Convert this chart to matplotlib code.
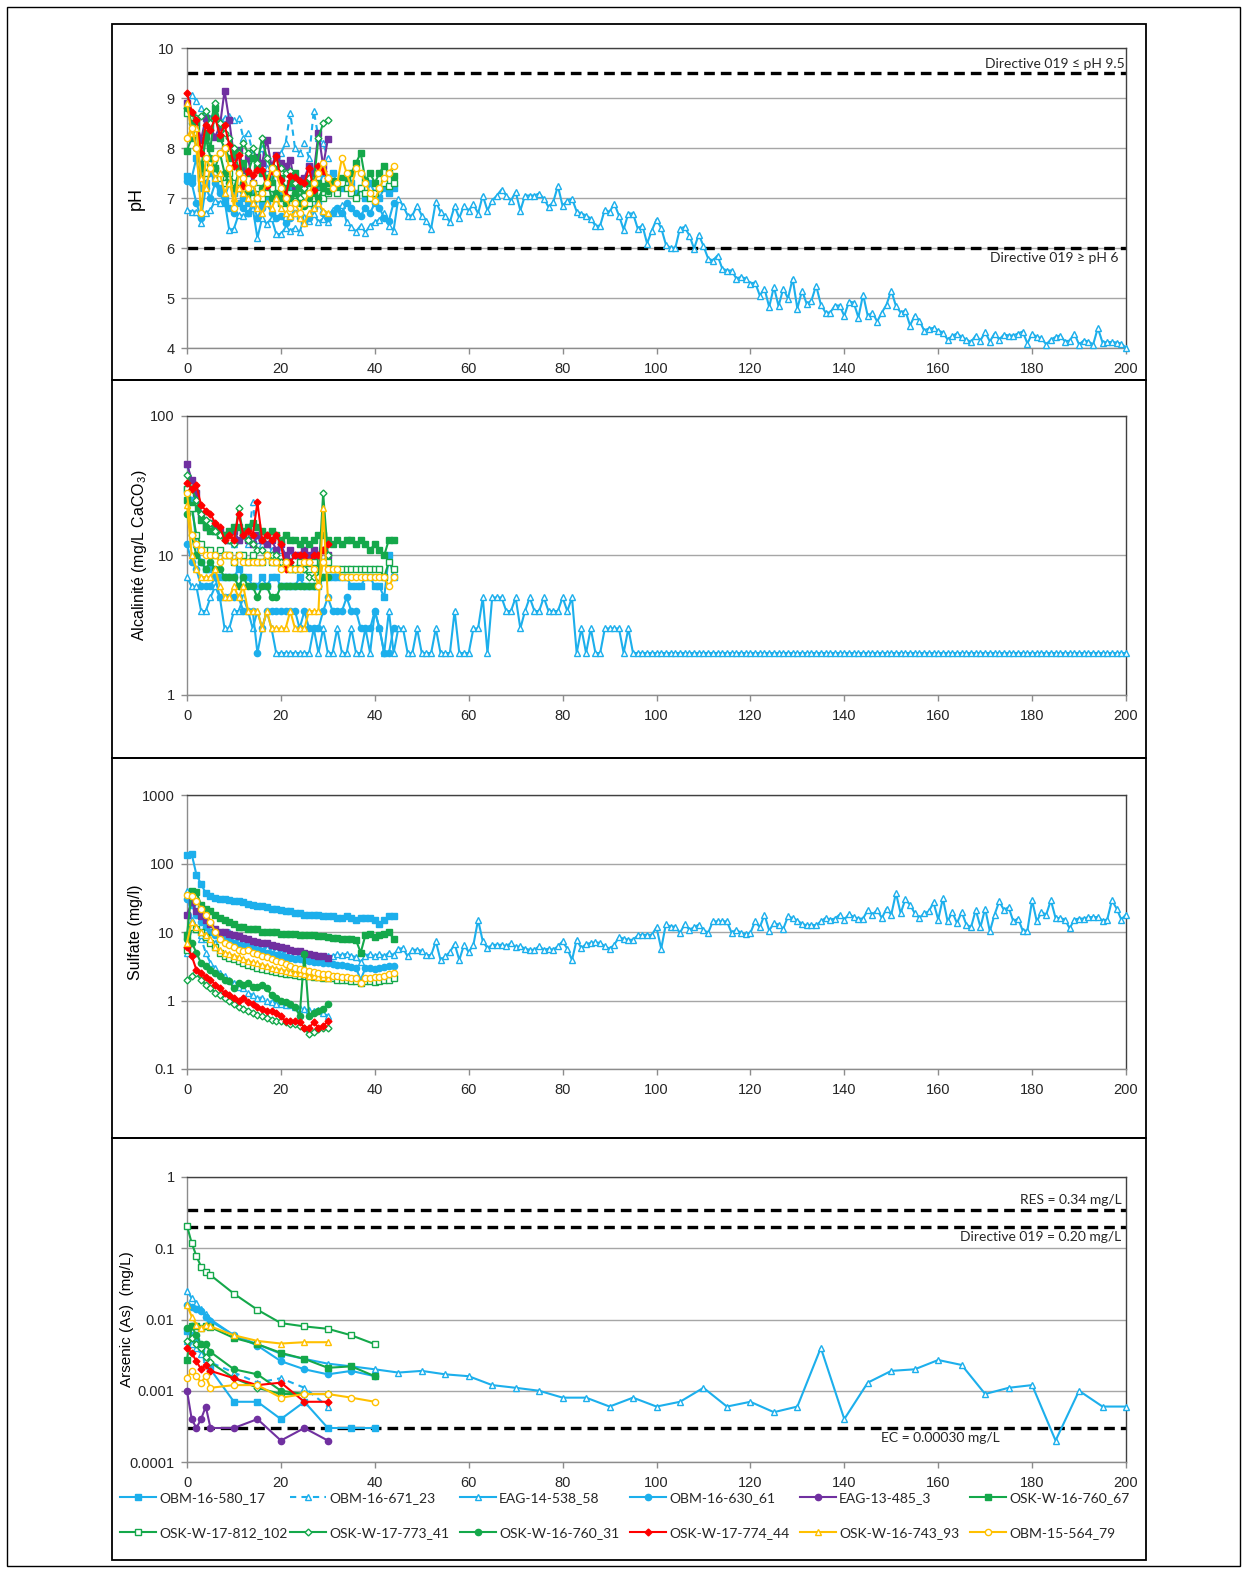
import matplotlib
matplotlib.use('Agg')
import matplotlib.pyplot as plt
from matplotlib.patches import Rectangle
from matplotlib.lines import Line2D
from matplotlib.ticker import FixedLocator, FuncFormatter, NullLocator
import numpy as np

plt.rcParams['mathtext.fontset'] = 'custom'
plt.rcParams['mathtext.rm'] = 'Liberation Sans'
plt.rcParams['mathtext.it'] = 'Liberation Sans'

# ---------------------------------------------------------------- data
series_names = ['OBM-16-580_17', 'OBM-16-671_23', 'EAG-14-538_58', 'OBM-16-630_61',
                'EAG-13-485_3', 'OSK-W-16-760_67', 'OSK-W-17-812_102', 'OSK-W-17-773_41',
                'OSK-W-16-760_31', 'OSK-W-17-774_44', 'OSK-W-16-743_93', 'OBM-15-564_79']

x_ticks = [0, 20, 40, 60, 80, 100, 120, 140, 160, 180, 200]

# ---- pH (one value per week, starting at week 0)
ph_obm_580_17 = [7.45, 7.4, 7.8, 7.2, 7.3, 7.5, 7.4, 7.2, 7.0, 7.3, 7.1, 7.2, 7.0, 6.9, 7.1, 7.0, 6.9, 7.0, 7.2, 7.0,
                 7.1, 7.0, 7.2, 7.3, 7.0, 7.1, 7.4, 7.3, 7.2, 7.5, 7.4, 7.5, 7.3, 7.2, 7.4, 7.3, 7.1, 7.2, 7.0, 7.3,
                 7.1, 7.0, 7.2, 7.1, 7.2]
ph_obm_671_23 = [8.9, 9.05, 8.95, 8.8, 8.7, 8.6, 8.7, 8.5, 8.6, 8.65, 8.55, 8.6, 8.2, 8.3, 7.9, 7.8, 8.0, 7.6, 7.4, 7.5,
                 7.9, 8.1, 8.7, 8.0, 7.9, 8.1, 7.8, 8.75, 8.2, 8.1, 7.8]
ph_eag_538_58 = [6.76, 6.73, 6.73, 6.5, 6.7, 6.76, 6.95, 6.9, 6.95, 6.36,
                 6.39, 6.67, 6.64, 6.7, 6.8, 6.2, 6.6, 6.48, 6.6, 6.28,
                 6.28, 6.41, 6.35, 6.4, 6.32, 6.62, 6.55, 6.69, 6.52, 6.59,
                 6.52, 6.76, 6.7, 6.86, 6.52, 6.42, 6.33, 6.45, 6.31, 6.45,
                 6.52, 6.57, 6.7, 6.45, 6.35, 6.99, 6.85, 6.65, 6.65, 6.85,
                 6.65, 6.55, 6.39, 6.93, 6.72, 6.65, 6.52, 6.84, 6.6, 6.85,
                 6.75, 6.88, 6.69, 7.05, 6.75, 6.95, 7.05, 7.17, 7.05, 6.95,
                 7.12, 6.75, 7.05, 7.05, 7.05, 7.09, 6.99, 6.82, 6.92, 7.24,
                 6.84, 6.95, 6.99, 6.73, 6.69, 6.65, 6.59, 6.44, 6.45, 6.77,
                 6.72, 6.89, 6.65, 6.37, 6.69, 6.69, 6.39, 6.45, 6.09, 6.35,
                 6.57, 6.4, 6.07, 6.0, 6.0, 6.39, 6.42, 6.25, 5.99, 6.27,
                 6.04, 5.79, 5.75, 5.85, 5.59, 5.55, 5.55, 5.39, 5.42, 5.39,
                 5.29, 5.31, 5.05, 5.19, 4.82, 5.22, 4.84, 5.19, 4.99, 5.39,
                 4.79, 5.15, 4.88, 4.95, 5.25, 4.87, 4.71, 4.71, 4.85, 4.85,
                 4.64, 4.93, 4.91, 4.61, 5.07, 4.64, 4.71, 4.53, 4.71, 4.87,
                 5.15, 4.84, 4.71, 4.75, 4.45, 4.65, 4.55, 4.35, 4.39, 4.4,
                 4.35, 4.31, 4.17, 4.24, 4.29, 4.22, 4.17, 4.12, 4.25, 4.15,
                 4.32, 4.13, 4.29, 4.17, 4.27, 4.25, 4.25, 4.29, 4.33, 4.09,
                 4.29, 4.22, 4.2, 4.07, 4.17, 4.22, 4.25, 4.13, 4.15, 4.29,
                 4.07, 4.15, 4.13, 4.07, 4.4, 4.11, 4.12, 4.12, 4.11, 4.09,
                 4.0]
ph_obm_630_61 = [7.35, 7.3, 6.9, 6.6, 7.2, 7.0, 7.3, 7.1, 6.9, 6.8, 6.7, 6.9, 6.8, 6.7, 6.9, 6.6, 6.8, 6.9, 6.7, 6.6,
                 6.65, 6.5, 6.6, 6.7, 6.6, 6.5, 6.6, 6.8, 6.9, 6.7, 6.6, 6.7, 6.8, 6.7, 6.9, 6.8, 6.7, 6.65, 6.8, 6.7,
                 6.9, 6.8, 6.6, 6.55, 6.9]
ph_eag_485_3 = [8.9, 8.63, 8.53, 8.17, 8.6, 8.4, 8.23, 8.43, 9.15, 8.55, 7.83, 7.97, 7.57, 7.8, 7.3, 7.83, 7.7, 8.17,
                7.64, 7.87, 7.7, 7.64, 7.77, 7.24, 7.37, 7.4, 7.64, 7.5, 8.3, 7.64, 8.18]
ph_osk_760_67 = [7.95, 8.2, 8.5, 7.4, 8.3, 8.0, 8.8, 8.2, 8.0, 7.8, 7.9, 7.6, 7.7, 7.5, 7.8, 7.6, 7.5, 7.4, 7.3, 7.6,
                 7.4, 7.2, 7.3, 7.5, 7.2, 7.1, 7.3, 7.2, 7.3, 7.25, 7.3, 7.35, 7.2, 7.4, 7.4, 7.5, 7.7, 7.9, 7.35, 7.5,
                 7.3, 7.5, 7.65, 7.5, 7.45]
ph_osk_812_102 = [8.7, 8.6, 8.4, 7.8, 7.5, 7.7, 7.6, 7.4, 7.3, 7.5, 7.3, 7.2, 7.2, 7.1, 7.0, 7.2, 7.0, 7.1, 7.2, 7.0,
                  6.9, 7.0, 7.1, 6.95, 7.0, 7.05, 6.9, 7.0, 7.1, 7.0, 7.1, 7.2, 7.1, 7.3, 7.2, 7.1, 7.0, 7.2, 7.1, 7.0,
                  7.1, 7.2, 7.3, 7.25, 7.3]
ph_osk_773_41 = [8.8, 8.7, 8.6, 8.65, 8.75, 8.5, 8.9, 8.5, 8.3, 8.2, 8.0, 7.9, 8.1, 7.9, 8.0, 7.7, 8.2, 7.8, 7.6, 7.7,
                 7.6, 7.5, 7.55, 7.3, 7.0, 7.2, 7.4, 7.3, 8.2, 8.5, 8.55]
ph_osk_760_31 = [8.8, 8.5, 8.0, 7.6, 8.2, 7.8, 7.6, 7.9, 7.5, 7.3, 7.2, 7.5, 7.3, 7.1, 7.3, 7.0, 7.2, 7.4, 7.0, 7.1,
                 7.0, 6.9, 7.0, 7.1, 6.9, 6.85, 7.0, 7.1, 7.0, 7.2, 7.15]
ph_osk_774_44 = [9.1, 8.73, 8.56, 7.9, 8.46, 8.36, 8.6, 8.26, 8.46, 8.07, 7.65, 7.87, 7.24, 7.54, 7.47, 7.57, 7.56, 7.24,
                 7.54, 7.85, 7.37, 7.04, 7.44, 7.42, 7.34, 7.3, 7.6, 7.17, 7.64, 7.54, 7.4]
ph_osk_743_93 = [8.9, 8.3, 8.4, 7.4, 7.2, 7.6, 7.4, 7.5, 7.1, 7.3, 7.0, 7.2, 7.1, 7.0, 6.9, 6.8, 6.7, 6.9, 6.8, 7.0,
                 6.8, 6.7, 6.65, 6.7, 6.6, 6.5, 6.7, 6.8, 6.9, 6.75, 6.7]
ph_obm_564_79 = [8.2, 8.4, 8.0, 6.7, 7.8, 7.6, 7.8, 7.9, 8.0, 7.6, 6.8, 7.5, 7.4, 7.2, 7.3, 7.0, 7.1, 7.3, 7.6, 7.5,
                 7.2, 7.0, 6.8, 6.9, 6.7, 6.9, 7.1, 7.3, 7.5, 7.7, 7.4, 7.2, 7.3, 7.8, 7.5, 7.2, 7.6, 7.5, 7.3, 7.1,
                 6.95, 7.2, 7.4, 7.5, 7.65]

# ---- Alkalinity (mg/L CaCO3)
alk_obm_580_17 = [30, 25, 12, 9, 8, 8, 7, 7, 7, 7, 7, 8, 7, 7, 6, 6, 7, 6, 7, 7, 6, 6, 6, 6, 7, 6, 6, 6, 6, 7,
                  7, 7, 7, 7, 7, 6, 6, 6, 7, 7, 6, 6, 5, 10, 7]
alk_obm_671_23 = [45, 35, 30, 20, 18, 16, 15, 15, 14, 13, 12, 13, 14, 12, 24, 13, 12, 12, 11, 11, 11, 10, 10, 10, 10,
                  9, 10, 10, 10, 9, 10]
alk_eag_538_58 = [7, 6, 6, 4, 4, 5, 6, 5, 3, 3,
                  4, 4, 5, 4, 3, 4, 3, 4, 3, 2,
                  2, 2, 2, 2, 2, 2, 2, 3, 2, 3,
                  2, 2, 3, 2, 2, 3, 2, 2, 3, 2,
                  4, 3, 2, 4, 2, 3, 3, 2, 2, 3,
                  2, 2, 2, 3, 2, 2, 2, 4, 2, 2,
                  2, 3, 3, 5, 2, 5, 5, 5, 4, 4,
                  5, 3, 4, 5, 4, 4, 5, 4, 4, 4,
                  5, 4, 5, 2, 3, 2, 3, 2, 2, 3,
                  3, 3, 3, 2, 3, 2, 2, 2, 2, 2,
                  2, 2, 2, 2, 2, 2, 2, 2, 2, 2,
                  2, 2, 2, 2, 2, 2, 2, 2, 2, 2,
                  2, 2, 2, 2, 2, 2, 2, 2, 2, 2,
                  2, 2, 2, 2, 2, 2, 2, 2, 2, 2,
                  2, 2, 2, 2, 2, 2, 2, 2, 2, 2,
                  2, 2, 2, 2, 2, 2, 2, 2, 2, 2,
                  2, 2, 2, 2, 2, 2, 2, 2, 2, 2,
                  2, 2, 2, 2, 2, 2, 2, 2, 2, 2,
                  2, 2, 2, 2, 2, 2, 2, 2, 2, 2,
                  2, 2, 2, 2, 2, 2, 2, 2, 2, 2,
                  2]
alk_obm_630_61 = [12, 9, 8, 6, 6, 6, 7, 5, 5, 5, 5, 5, 4, 4, 4, 2, 3, 4, 4, 4, 4, 4, 4, 4, 3, 4, 3, 3, 3, 4,
                  5, 4, 4, 4, 5, 4, 4, 3, 3, 3, 4, 3, 2, 2, 3]
alk_eag_485_3 = [45, 35, 28, 20, 16, 17, 16, 15, 14, 13, 15, 13, 14, 13, 12, 14, 13, 12, 13, 11, 12, 10, 11, 10, 10,
                 11, 10, 11, 10, 11, 10]
alk_osk_760_67 = [25, 23, 22, 18, 16, 15, 15, 14, 14, 15, 16, 16, 15, 16, 17, 16, 15, 14, 15, 14, 13, 14, 13, 13, 12,
                  13, 12, 13, 14, 14, 13, 12, 13, 12, 13, 13, 12, 13, 12, 11, 12, 11, 10, 13, 13]
alk_osk_812_102 = [30, 22, 14, 12, 11, 11, 10, 11, 10, 10, 9, 10, 10, 9, 10, 9, 9, 10, 9, 9, 9, 9, 8, 8, 9, 8, 8, 9,
                   8, 9, 9, 8, 8, 8, 8, 8, 8, 8, 8, 8, 8, 8, 7, 9, 8]
alk_osk_773_41 = [38, 30, 25, 20, 18, 17, 15, 14, 13, 13, 12, 22, 14, 13, 12, 11, 11, 10, 10, 10, 9, 9, 9, 8, 8, 8,
                  7, 7, 7, 28, 10]
alk_osk_760_31 = [20, 14, 10, 9, 8, 9, 8, 8, 7, 7, 7, 6, 7, 6, 6, 5, 6, 6, 5, 5, 6, 6, 6, 6, 6, 6, 6, 6, 6, 7, 7]
alk_osk_774_44 = [33, 30, 32, 23, 21, 20, 17, 16, 13, 14, 13, 20, 14, 15, 14, 24, 13, 14, 13, 14, 12, 8, 9, 10, 10,
                  10, 9, 10, 10, 11, 12]
alk_osk_743_93 = [23, 10, 8, 7, 7, 7, 8, 6, 5, 5, 6, 5, 6, 4, 4, 4, 3, 4, 3, 3, 3, 3, 4, 3, 3, 3, 4, 4, 4, 22, 5]
alk_obm_564_79 = [28, 14, 12, 11, 10, 10, 10, 9, 10, 10, 9, 10, 9, 9, 9, 9, 9, 10, 9, 9, 8, 9, 8, 8, 8, 9, 9, 8, 6,
                  9, 8, 8, 8, 7, 7, 7, 7, 7, 7, 7, 7, 7, 7, 6, 7]

# ---- Sulfate (mg/l)
so4_obm_580_17 = [131, 137, 69, 50, 37, 33, 31, 30, 30, 29, 28, 28, 27, 26, 25, 24, 24, 23, 22, 22, 21, 20, 20, 19,
                  19, 18, 18, 18, 18, 17, 17, 17, 16, 16, 17, 16, 15, 16, 16, 16, 15, 13, 15, 17, 17]
so4_obm_671_23 = [40, 15, 12, 8, 5, 3.5, 3, 2.5, 2.3, 2, 1.8, 1.6, 1.5, 1.3, 1.2, 1.1, 1.1, 1.0, 0.95, 0.9, 0.9,
                  0.85, 0.85, 0.8, 0.78, 0.75, 0.72, 0.7, 0.72, 0.65, 0.6]
so4_eag_538_58 = [5, 12, 11, 9, 8, 7.5, 7, 8, 9, 10,
                  8, 7.5, 7, 6.5, 6.5, 6, 6, 5.8, 5.5, 5.5,
                  5, 5, 4.8, 4.8, 4.6, 4.5, 4.5, 4.4, 4.3, 4.5,
                  4.4, 4.5, 4.7, 4.6, 4.8, 4.5, 4.3, 3.6, 4.5, 4.8,
                  4.4, 4.8, 4.4, 5.0, 4.6, 5.7, 5.8, 4.4, 5.5, 5.5,
                  5.3, 4.6, 4.6, 7.3, 3.9, 4.4, 5.1, 6.7, 3.9, 6.5,
                  5.1, 6.5, 15, 7.3, 5.8, 6.5, 6.5, 6.5, 6.2, 6.9,
                  6.0, 6.2, 5.7, 5.5, 5.5, 6.2, 5.5, 5.7, 5.5, 6.2,
                  7.3, 5.7, 3.9, 7.7, 5.8, 6.7, 6.9, 7.1, 6.9, 6.2,
                  5.7, 6.5, 8.4, 8.0, 7.7, 7.7, 8.9, 9.1, 9.1, 9.1,
                  11.7, 5.7, 13, 12, 12, 9.7, 13, 10.8, 11.7, 12.8,
                  10.8, 9.7, 14.3, 14.3, 14.3, 14.3, 9.7, 10.8, 9.7, 9.4,
                  9.7, 14.3, 11.7, 17.9, 10.5, 13.5, 12.8, 11.1, 16.9, 16,
                  14.7, 13.2, 12.5, 12.8, 12.5, 14.3, 16, 15.2, 15.7, 17.9,
                  15.2, 18.3, 16.5, 15.7, 15.7, 21, 17.9, 21, 16, 22,
                  17.9, 37, 18.8, 30, 25, 18.8, 16, 18.8, 20, 27,
                  15.2, 31, 14.3, 19.6, 13.5, 19.6, 12.8, 11.8, 21, 11.8,
                  22, 10.2, 17.9, 28, 21, 23, 14.3, 15.7, 10.5, 10.5,
                  29, 14.3, 19.6, 17.9, 29, 16, 16, 15.2, 11.3, 15.2,
                  15.7, 15.7, 16.5, 16.5, 16.5, 14.7, 15.2, 29, 22, 15.2,
                  18]
so4_obm_630_61 = [30, 25, 18, 14, 12, 10, 9, 8.5, 8, 7.5, 7, 6.5, 6.2, 6, 5.8, 5.5, 5.3, 5, 4.8, 4.6, 4.5, 4.3, 4.2,
                  4, 4, 3.9, 3.8, 3.7, 3.6, 3.5, 3.5, 3.4, 3.3, 3.3, 3.2, 3.1, 3.0, 2.0, 3.0, 3.0, 2.9, 3.0, 3.1, 3.2,
                  3.2]
so4_eag_485_3 = [18, 27, 20, 17, 15, 13, 11, 10, 10, 9.5, 9, 8.7, 8.3, 8, 7.5, 7.2, 7, 6.8, 6.5, 6.2, 6, 5.8, 5.5,
                 5.3, 5.2, 5, 4.8, 4.6, 4.5, 4.4, 4.2]
so4_osk_760_67 = [9, 40, 38, 25, 22, 20, 18, 16, 15, 14, 13, 12, 12, 11, 11, 11, 10, 10, 10, 10, 9.5, 9.5, 9.5, 9.3,
                  9, 9, 9, 9, 8.8, 8.6, 8.5, 8.3, 8.2, 8, 8, 7.8, 7.6, 5.0, 9, 9.5, 8.5, 9, 9.5, 10, 8]
so4_osk_812_102 = [5.5, 12, 11, 10, 8.5, 7, 6, 5, 4.5, 4.2, 4, 3.8, 3.5, 3.3, 3.2, 3, 2.9, 2.8, 2.7, 2.6, 2.5, 2.45,
                   2.4, 2.35, 2.3, 2.3, 2.25, 2.2, 2.2, 2.15, 2.1, 2.1, 2.0, 2.0, 2.0, 1.9, 1.9, 1.8, 1.9, 1.9, 1.85,
                   1.9, 2.0, 2.0, 2.1]
so4_osk_773_41 = [2.0, 2.3, 2.5, 2.0, 1.7, 1.5, 1.3, 1.2, 1.1, 1.0, 0.9, 0.8, 0.75, 0.7, 0.65, 0.62, 0.6, 0.55, 0.52,
                  0.5, 0.5, 0.48, 0.46, 0.45, 0.42, 0.4, 0.32, 0.35, 0.38, 0.4, 0.4]
so4_osk_760_31 = [8, 7, 5, 3.5, 3.2, 2.8, 2.5, 2.3, 2.0, 1.9, 1.5, 1.8, 1.7, 1.8, 1.6, 1.6, 1.7, 1.5, 1.2, 1.1, 1.0,
                  0.95, 0.9, 0.8, 0.6, 4.8, 0.6, 0.65, 0.7, 0.75, 0.9]
so4_osk_774_44 = [6, 4.5, 2.8, 2.5, 2.2, 2.0, 1.7, 1.5, 1.3, 1.2, 1.1, 1.0, 1.1, 0.95, 0.9, 0.8, 0.75, 0.7, 0.7,
                  0.65, 0.6, 0.5, 0.5, 0.5, 0.48, 0.4, 0.4, 0.48, 0.4, 0.42, 0.5]
so4_osk_743_93 = [7, 14, 12, 10, 9, 8, 6, 5.5, 5, 4.8, 4.5, 4.3, 4.0, 3.8, 3.6, 3.5, 3.3, 3.2, 3.0, 2.9, 2.8, 2.7,
                  2.6, 2.5, 2.5, 2.4, 2.3, 2.3, 2.2, 2.2, 2.1]
so4_obm_564_79 = [35, 33, 28, 22, 18, 14, 10, 8, 7, 6.5, 6, 5.5, 5.2, 5.5, 5.0, 4.7, 4.5, 4.3, 4.0, 3.8, 3.6, 3.4,
                  3.2, 3.0, 2.9, 2.8, 2.7, 2.6, 2.5, 2.4, 2.4, 2.3, 2.3, 2.2, 2.2, 2.1, 2.1, 1.8, 2.1, 2.1, 2.2, 2.2,
                  2.3, 2.4, 2.5]

# ---- Arsenic (mg/L), sampled weeks
as_weeks_30 = [0, 1, 2, 3, 4, 5, 10, 15, 20, 25, 30]
as_weeks_40 = [0, 1, 2, 3, 4, 5, 10, 15, 20, 25, 30, 35, 40]
as_weeks_eag = [0, 1, 2, 3, 4, 5, 10, 15, 20, 25, 30, 35, 40, 45, 50, 55, 60, 65, 70, 75, 80, 85, 90, 95, 100,
                105, 110, 115, 120, 125, 130, 135, 140, 145, 150, 155, 160, 165, 170, 175, 180, 185, 190, 195, 200]
as_obm_580_17 = [0.007, 0.006, 0.005, 0.004, 0.003, 0.002, 0.0007, 0.0007, 0.0004, 0.0007, 0.0003, 0.0003, 0.0003]
as_obm_671_23 = [0.005, 0.0045, 0.004, 0.0033, 0.0028, 0.0025, 0.0018, 0.0013, 0.0015, 0.0011, 0.0006]
as_eag_538_58 = [0.025, 0.02, 0.017, 0.014, 0.012, 0.01, 0.006, 0.0045, 0.0033, 0.0028, 0.0024, 0.0022, 0.002,
                 0.0018, 0.0019, 0.0017, 0.0016, 0.0012, 0.0011, 0.001, 0.0008, 0.0008, 0.0006, 0.0008, 0.0006,
                 0.0007, 0.0011, 0.0006, 0.0007, 0.0005, 0.0006, 0.004, 0.0004, 0.0013, 0.0019, 0.002, 0.0027,
                 0.0023, 0.0009, 0.0011, 0.0012, 0.0002, 0.001, 0.0006, 0.0006]
as_obm_630_61 = [0.016, 0.015, 0.014, 0.013, 0.011, 0.0095, 0.006, 0.0043, 0.0026, 0.002, 0.0017, 0.0019, 0.0016]
as_eag_485_3 = [0.001, 0.0004, 0.0003, 0.0004, 0.0006, 0.0003, 0.0003, 0.0004, 0.0002, 0.0003, 0.0002]
as_osk_760_67 = [0.0027, 0.008, 0.008, 0.0075, 0.008, 0.0078, 0.0055, 0.0045, 0.0034, 0.0028, 0.0021, 0.0022, 0.0016]
as_osk_812_102 = [0.207, 0.118, 0.078, 0.055, 0.047, 0.042, 0.023, 0.0137, 0.0089, 0.008, 0.0074, 0.006, 0.0045]
as_osk_773_41 = [0.005, 0.0055, 0.0045, 0.004, 0.003, 0.0025, 0.0015, 0.0011, 0.0009, 0.0009, 0.0009]
as_osk_760_31 = [0.0075, 0.008, 0.006, 0.0045, 0.0045, 0.0035, 0.002, 0.0017, 0.001, 0.0009, 0.0009]
as_osk_774_44 = [0.004, 0.0034, 0.0026, 0.002, 0.0023, 0.0019, 0.0015, 0.0012, 0.0013, 0.0007, 0.0007]
as_osk_743_93 = [0.016, 0.011, 0.0085, 0.0075, 0.0085, 0.008, 0.006, 0.005, 0.0046, 0.0048, 0.0048]
as_obm_564_79 = [0.0015, 0.0019, 0.0016, 0.0013, 0.0016, 0.0011, 0.0012, 0.0012, 0.0008, 0.0009, 0.0009, 0.0008,
                 0.0007]

# reference limits
ph_limits = [9.5, 6.0]
as_limits = [0.34, 0.20, 0.00030]

# ---------------------------------------------------------------- styles
BLUE, PURPLE, GREEN, RED, YELLOW = '#1CAFEC', '#7030A0', '#14A84A', '#FF0000', '#FFC000'
STY = {
    'OBM-16-580_17':   dict(c=BLUE, m='s', f=True, ls='-', ms=4.5),
    'OBM-16-671_23':   dict(c=BLUE, m='^', f=False, ls=(0, (3, 2.5)), ms=5),
    'EAG-14-538_58':   dict(c=BLUE, m='^', f=False, ls='-', ms=5),
    'OBM-16-630_61':   dict(c=BLUE, m='o', f=True, ls='-', ms=4.5),
    'EAG-13-485_3':    dict(c=PURPLE, m='o', f=True, ls='-', ms=4.5),
    'OSK-W-16-760_67': dict(c=GREEN, m='s', f=True, ls='-', ms=4.5),
    'OSK-W-17-812_102': dict(c=GREEN, m='s', f=False, ls='-', ms=4.5),
    'OSK-W-17-773_41': dict(c=GREEN, m='D', f=False, ls='-', ms=3.5),
    'OSK-W-16-760_31': dict(c=GREEN, m='o', f=True, ls='-', ms=4.5),
    'OSK-W-17-774_44': dict(c=RED, m='D', f=True, ls='-', ms=3.5),
    'OSK-W-16-743_93': dict(c=YELLOW, m='^', f=False, ls='-', ms=5),
    'OBM-15-564_79':   dict(c=YELLOW, m='o', f=False, ls='-', ms=4.5),
}

W, H = 1249, 1572
fig = plt.figure(figsize=(W / 100, H / 100), dpi=100)


def rect(l, t, r, b):
    return [l / W, 1 - b / H, (r - l) / W, (b - t) / H]


TICKFONT = 'Liberation Sans'
TXTFONT = ['Lato', 'DejaVu Sans']


def style_axis(ax):
    ax.set_xlim(0, 200)
    ax.xaxis.set_major_locator(FixedLocator(x_ticks))
    ax.xaxis.set_minor_locator(NullLocator())
    ax.grid(axis='y', color='#A6A6A6', lw=1.0, zorder=0)
    ax.set_axisbelow(True)
    for s in ['left', 'bottom']:
        ax.spines[s].set_color('#8C8C8C')
        ax.spines[s].set_linewidth(1.0)
    for s in ['top', 'right']:
        ax.spines[s].set_color('#404040')
        ax.spines[s].set_linewidth(1.0)
    ax.tick_params(axis='both', direction='out', length=4, width=1, color='#8C8C8C', labelsize=10.5,
                   labelcolor='#262626', pad=5)
    ax.tick_params(axis='x', pad=6)
    for lab in ax.get_xticklabels() + ax.get_yticklabels():
        lab.set_fontfamily(TICKFONT)


def logfmt(v, pos):
    if v >= 1:
        return '%d' % round(v)
    return ('%.10f' % v).rstrip('0')


def draw(ax, x, y, key, marker=None):
    st = STY[key]
    m = marker if marker else st['m']
    ax.plot(x, y, color=st['c'], ls=st['ls'], lw=1.5, marker=m, ms=st['ms'],
            mfc=st['c'] if st['f'] else 'white', mec=st['c'], mew=1.0, clip_on=False, zorder=3)


def idx(v):
    return np.arange(len(v))


# ---------------- panel 1: pH
ax1 = fig.add_axes(rect(187, 48, 1126, 348))
ph_data = [ph_obm_580_17, ph_obm_671_23, ph_eag_538_58, ph_obm_630_61, ph_eag_485_3, ph_osk_760_67,
           ph_osk_812_102, ph_osk_773_41, ph_osk_760_31, ph_osk_774_44, ph_osk_743_93, ph_obm_564_79]
for name, v in zip(series_names, ph_data):
    draw(ax1, idx(v), v, name, marker='s' if name == 'EAG-13-485_3' else None)
ax1.set_ylim(4, 10)
ax1.yaxis.set_major_locator(FixedLocator([4, 5, 6, 7, 8, 9, 10]))
for yl in ph_limits:
    ax1.axhline(yl, color='black', lw=2.4, ls=(0, (3.2, 1.8)), zorder=2)
ax1.annotate('Directive 019 \u2264 pH 9.5', xy=(199.7, 9.5), xytext=(0, 2), textcoords='offset points',
             ha='right', va='bottom', fontsize=10, family=TXTFONT, color='#262626')
ax1.annotate('Directive 019 \u2265 pH 6', xy=(198.5, 6.0), xytext=(0, -3), textcoords='offset points',
             ha='right', va='top', fontsize=10, family=TXTFONT, color='#262626')
ax1.set_ylabel('pH', fontsize=13, family=TICKFONT)
ax1.yaxis.set_label_coords(-0.045, 0.5)
style_axis(ax1)

# ---------------- panel 2: Alkalinity
ax2 = fig.add_axes(rect(187, 416, 1126, 695))
alk_data = [alk_obm_580_17, alk_obm_671_23, alk_eag_538_58, alk_obm_630_61, alk_eag_485_3, alk_osk_760_67,
            alk_osk_812_102, alk_osk_773_41, alk_osk_760_31, alk_osk_774_44, alk_osk_743_93, alk_obm_564_79]
for name, v in zip(series_names, alk_data):
    draw(ax2, idx(v), v, name, marker='s' if name == 'EAG-13-485_3' else None)
ax2.set_yscale('log')
ax2.set_ylim(1, 100)
ax2.yaxis.set_major_locator(FixedLocator([1, 10, 100]))
ax2.yaxis.set_minor_locator(NullLocator())
ax2.yaxis.set_major_formatter(FuncFormatter(logfmt))
ax2.set_ylabel('Alcalinit\u00e9 (mg/L CaCO$_3$)', fontsize=11.5, family=TICKFONT)
ax2.yaxis.set_label_coords(-0.04, 0.5)
style_axis(ax2)

# ---------------- panel 3: Sulfate
ax3 = fig.add_axes(rect(187, 795, 1126, 1069))
so4_data = [so4_obm_580_17, so4_obm_671_23, so4_eag_538_58, so4_obm_630_61, so4_eag_485_3, so4_osk_760_67,
            so4_osk_812_102, so4_osk_773_41, so4_osk_760_31, so4_osk_774_44, so4_osk_743_93, so4_obm_564_79]
for name, v in zip(series_names, so4_data):
    draw(ax3, idx(v), v, name, marker='s' if name == 'EAG-13-485_3' else None)
ax3.set_yscale('log')
ax3.set_ylim(0.1, 1000)
ax3.yaxis.set_major_locator(FixedLocator([0.1, 1, 10, 100, 1000]))
ax3.yaxis.set_minor_locator(NullLocator())
ax3.yaxis.set_major_formatter(FuncFormatter(logfmt))
ax3.set_ylabel('Sulfate (mg/l)', fontsize=11.5, family=TICKFONT)
ax3.yaxis.set_label_coords(-0.047, 0.5)
style_axis(ax3)

# ---------------- panel 4: Arsenic
ax4 = fig.add_axes(rect(187, 1177, 1126, 1462))
as_data = [(as_weeks_40, as_obm_580_17), (as_weeks_30, as_obm_671_23), (as_weeks_eag, as_eag_538_58),
           (as_weeks_40, as_obm_630_61), (as_weeks_30, as_eag_485_3), (as_weeks_40, as_osk_760_67),
           (as_weeks_40, as_osk_812_102), (as_weeks_30, as_osk_773_41), (as_weeks_30, as_osk_760_31),
           (as_weeks_30, as_osk_774_44), (as_weeks_30, as_osk_743_93), (as_weeks_40, as_obm_564_79)]
for name, (xw, v) in zip(series_names, as_data):
    draw(ax4, xw, v, name)
ax4.set_yscale('log')
ax4.set_ylim(0.0001, 1)
ax4.yaxis.set_major_locator(FixedLocator([0.0001, 0.001, 0.01, 0.1, 1]))
ax4.yaxis.set_minor_locator(NullLocator())
ax4.yaxis.set_major_formatter(FuncFormatter(logfmt))
for yl in as_limits:
    ax4.axhline(yl, color='black', lw=2.4, ls=(0, (3.2, 1.8)), zorder=2)
ax4.annotate('RES = 0.34 mg/L', xy=(199.0, as_limits[0]), xytext=(0, 3), textcoords='offset points',
             ha='right', va='bottom', fontsize=10, family=TXTFONT, color='#262626')
ax4.annotate('Directive 019 = 0.20 mg/L', xy=(199.0, as_limits[1]), xytext=(0, -3), textcoords='offset points',
             ha='right', va='top', fontsize=10, family=TXTFONT, color='#262626')
ax4.annotate('EC = 0.00030 mg/L', xy=(173.0, as_limits[2]), xytext=(0, -3), textcoords='offset points',
             ha='right', va='top', fontsize=10, family=TXTFONT, color='#262626')
ax4.set_ylabel('Arsenic (As)  (mg/L)', fontsize=11, family=TICKFONT)
ax4.yaxis.set_label_coords(-0.056, 0.5)
style_axis(ax4)

# ---------------- legend (2 rows x 6 columns)
for i, name in enumerate(series_names):
    st = STY[name]
    h = Line2D([], [], color=st['c'], ls=st['ls'], lw=1.5, marker=st['m'], ms=st['ms'],
               mfc=st['c'] if st['f'] else 'white', mec=st['c'], mew=1.0)
    row, col = divmod(i, 6)
    x0 = (120 + 170 * col) / W
    y0 = 1 - (1498 + 35 * row) / H
    fig.legend([h], [name], loc='center left', bbox_to_anchor=(x0, y0), frameon=False, borderpad=0,
               borderaxespad=0, handlelength=2.6, handletextpad=0.2,
               prop={'family': TXTFONT, 'size': 10}, labelcolor='#262626')

# ---------------- panel frames
for (t, b) in [(24, 380), (380, 758), (758, 1138), (1138, 1560)]:
    fig.add_artist(Rectangle((112 / W, 1 - b / H), (1146 - 112) / W, (b - t) / H, transform=fig.transFigure,
                             fill=False, ec='black', lw=1.3))
fig.add_artist(Rectangle((7 / W, 1 - 1566 / H), (1240 - 7) / W, (1566 - 7) / H, transform=fig.transFigure,
                         fill=False, ec='black', lw=1.0))

fig.savefig('out.png', dpi=100)
